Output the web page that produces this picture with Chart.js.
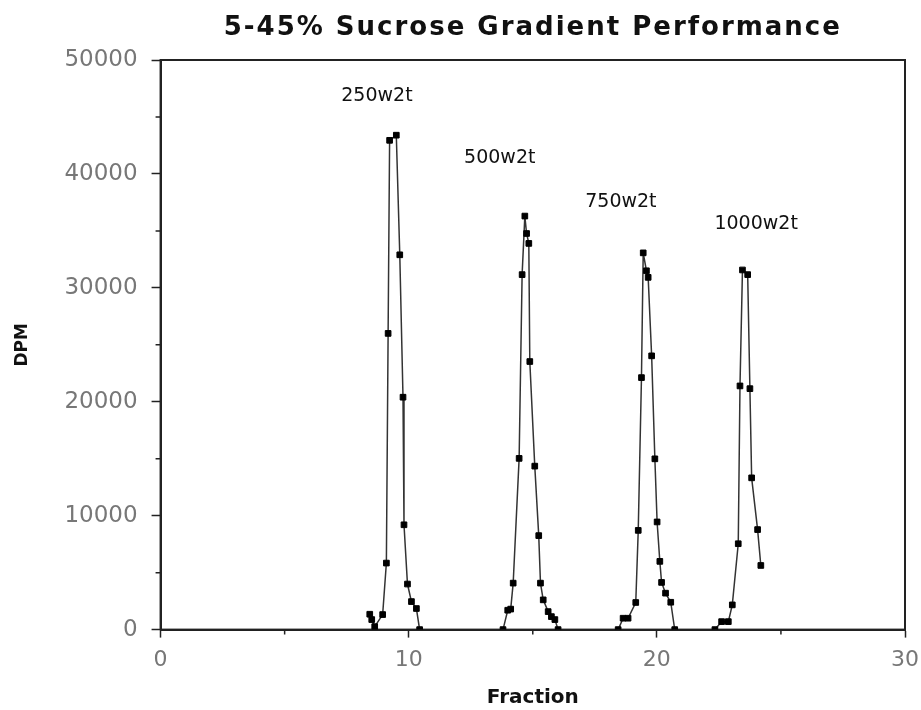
<!DOCTYPE html>
<html>
<head>
<meta charset="utf-8">
<script src="https://cdn.jsdelivr.net/npm/chart.js@4/dist/chart.umd.min.js"></script>
<style>
  html, body { margin: 0; padding: 0; background: #fff; }
  #wrap { width: 921px; height: 710px; }
</style>
</head>
<body>
<div id="wrap"><canvas id="myChart"></canvas></div>
<script>
// fractions and counts, one pair per gradient run
const frac250 = [8.43, 8.51, 8.63, 8.95, 9.10, 9.17, 9.23, 9.50, 9.64, 9.77, 9.81, 9.95, 10.11, 10.31, 10.44];
const dpm250  = [1350, 880, 260, 1320, 5840, 26000, 42950, 43400, 32900, 20400, 9200, 4000, 2460, 1850, 0];

const frac500 = [13.80, 13.99, 14.11, 14.21, 14.45, 14.57, 14.68, 14.75, 14.84, 14.88, 15.08, 15.24, 15.31, 15.42, 15.62, 15.75, 15.89, 16.02];
const dpm500  = [0, 1700, 1800, 4080, 15030, 31160, 36300, 34770, 33900, 23530, 14350, 8250, 4080, 2610, 1580, 1140, 880, 0];

const frac750 = [18.44, 18.64, 18.84, 19.15, 19.25, 19.38, 19.45, 19.58, 19.65, 19.79, 19.92, 20.01, 20.12, 20.19, 20.35, 20.56, 20.72];
const dpm750  = [0, 1000, 1000, 2380, 8710, 22120, 33070, 31500, 30920, 24030, 14990, 9450, 5990, 4140, 3200, 2400, 0];

const frac1000 = [22.34, 22.61, 22.88, 23.04, 23.28, 23.35, 23.45, 23.66, 23.75, 23.82, 24.06, 24.19];
const dpm1000  = [0, 700, 700, 2170, 7540, 21390, 31570, 31160, 21150, 13320, 8780, 5630];

const runNames = ['250w2t', '500w2t', '750w2t', '1000w2t'];
const labelX = [8.72, 13.67, 18.55, 24.0];
const labelY = [46800, 41400, 37500, 35600];

const xTicks = [0, 10, 20, 30];
const yTicks = [0, 10000, 20000, 30000, 40000, 50000];

const chartTitle = '5-45% Sucrose Gradient Performance';

function toPoints(xs, ys) {
    return xs.map((x, i) => ({ x: x, y: ys[i] }));
}

const series = [
    toPoints(frac250, dpm250),
    toPoints(frac500, dpm500),
    toPoints(frac750, dpm750),
    toPoints(frac1000, dpm1000)
];

// box round the plot, minor ticks, title and the run names
const extras = {
    id: 'extras',
    beforeDatasetsDraw(chart) {
        const ctx = chart.ctx;
        const a = chart.chartArea;
        const xs = chart.scales.x;
        const ys = chart.scales.y;
        ctx.save();
        ctx.strokeStyle = '#222';
        ctx.lineWidth = 2;
        ctx.strokeRect(a.left, a.top, a.right - a.left, a.bottom - a.top);
        ctx.lineWidth = 1.5;
        ctx.beginPath();
        for (let v = 5000; v < 50000; v += 10000) {
            const py = ys.getPixelForValue(v);
            ctx.moveTo(a.left - 5, py);
            ctx.lineTo(a.left, py);
        }
        for (let v = 5; v < 30; v += 10) {
            const px = xs.getPixelForValue(v);
            ctx.moveTo(px, a.bottom);
            ctx.lineTo(px, a.bottom + 5);
        }
        ctx.stroke();

        ctx.fillStyle = '#111';
        ctx.textAlign = 'center';
        ctx.textBaseline = 'middle';
        ctx.font = 'bold 26px "DejaVu Sans"';
        ctx.letterSpacing = '2px';
        ctx.fillText(chartTitle, (a.left + a.right) / 2, 28);
        ctx.letterSpacing = '0px';

        ctx.font = '19px "DejaVu Sans"';
        runNames.forEach((name, i) => {
            ctx.fillText(name, xs.getPixelForValue(labelX[i]), ys.getPixelForValue(labelY[i]));
        });
        ctx.restore();
    }
};

const ctx = document.getElementById('myChart');
const chart = new Chart(ctx, {
    type: 'line',
    data: {
        datasets: series.map((pts, i) => ({
            label: runNames[i],
            data: pts,
            borderColor: '#333',
            borderWidth: 1.5,
            pointStyle: 'rect',
            pointRadius: 4,
            pointBackgroundColor: '#000',
            pointBorderColor: '#000',
            pointBorderWidth: 1,
            tension: 0
        }))
    },
    options: {
        responsive: true,
        maintainAspectRatio: false,
        animation: false,
        layout: { padding: { left: 12, right: 16, top: 60, bottom: 0 } },
        plugins: {
            legend: { display: false },
            tooltip: { enabled: false },
            title: { display: false }
        },
        scales: {
            x: {
                type: 'linear',
                min: 0,
                max: 30,
                afterBuildTicks: axis => { axis.ticks = xTicks.map(v => ({ value: v })); },
                afterFit: axis => { axis.paddingRight = 0; },
                border: { display: true, color: '#222', width: 2 },
                grid: { drawOnChartArea: false, drawTicks: true, tickLength: 8, tickColor: '#222', tickWidth: 1.5 },
                ticks: { color: '#777', padding: 9, font: { family: 'DejaVu Sans', size: 22 }, callback: v => String(v) },
                title: {
                    display: true,
                    text: 'Fraction',
                    color: '#111',
                    font: { family: 'DejaVu Sans', size: 20, weight: 'bold' },
                    padding: { top: 4, bottom: 0 }
                }
            },
            y: {
                type: 'linear',
                min: 0,
                max: 50000,
                afterBuildTicks: axis => { axis.ticks = yTicks.map(v => ({ value: v })); },
                border: { display: true, color: '#222', width: 2 },
                grid: { drawOnChartArea: false, drawTicks: true, tickLength: 9, tickColor: '#222', tickWidth: 1.5 },
                ticks: { color: '#777', padding: 14, font: { family: 'DejaVu Sans', size: 23 }, callback: v => String(v) },
                title: {
                    display: true,
                    text: 'DPM',
                    color: '#111',
                    font: { family: 'DejaVu Sans', size: 17, weight: 'bold' },
                    padding: { top: 0, bottom: 18 }
                }
            }
        }
    },
    plugins: [extras]
});
</script>
</body>
</html>
